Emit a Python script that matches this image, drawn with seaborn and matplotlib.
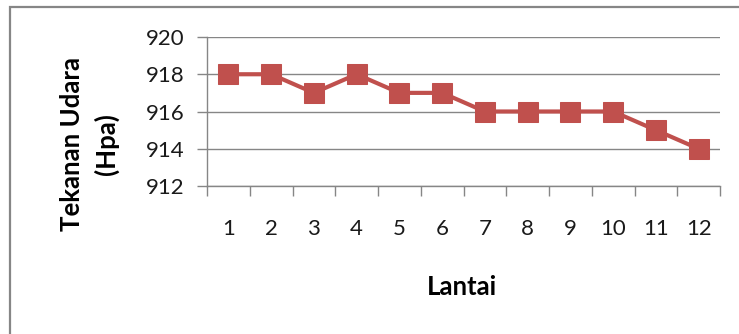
import matplotlib
matplotlib.use("Agg")
import matplotlib.pyplot as plt
from matplotlib.patches import Rectangle
from matplotlib.ticker import FixedLocator
import seaborn as sns
import pandas as pd

lantai = [1, 2, 3, 4, 5, 6, 7, 8, 9, 10, 11, 12]
tekanan = [918, 918, 917, 918, 917, 917, 916, 916, 916, 916, 915, 914]
y_ticks = [912, 914, 916, 918, 920]

df = pd.DataFrame({"Lantai": lantai, "Tekanan": tekanan})

sns.set_theme(style="white")
plt.rcParams["font.family"] = ["Lato", "DejaVu Sans"]

W, H = 739, 334
fig = plt.figure(figsize=(W / 100, H / 100), dpi=100)
fig.patch.set_facecolor("white")

# chart frame
fig.add_artist(Rectangle((10 / W, -0.05), 1.2, 1 - 7 / H + 0.05,
                         transform=fig.transFigure, fill=False,
                         edgecolor="#868686", linewidth=1.6))

ax = fig.add_axes([207 / W, 1 - 186 / H, (720 - 207) / W, (186 - 37) / H])
ax.set_facecolor("white")

red = "#C0504D"
sns.lineplot(data=df, x="Lantai", y="Tekanan", ax=ax, color=red,
             linewidth=3.0, marker="s", markersize=14.5,
             markeredgecolor=red, markerfacecolor=red)

ax.set_xlim(0.5, 12.5)
ax.set_ylim(912, 920)
ax.set_yticks(y_ticks)
ax.set_xticks(lantai)
ax.set_xticklabels([str(v) for v in lantai])
ax.xaxis.set_minor_locator(FixedLocator([v + 0.5 for v in range(0, 13)]))

ax.grid(axis="y", color="#868686", linewidth=1.0)
ax.grid(axis="x", visible=False)
ax.set_axisbelow(True)

for s in ["top", "right"]:
    ax.spines[s].set_visible(False)
for s in ["left", "bottom"]:
    ax.spines[s].set_color("#868686")
    ax.spines[s].set_linewidth(1.0)

ax.tick_params(axis="y", which="major", length=7, width=1.0, color="#868686",
               direction="out", labelsize=16, pad=9, labelcolor="#1a1a1a", left=True)
ax.tick_params(axis="x", which="major", length=0, labelsize=16, pad=24,
               labelcolor="#1a1a1a")
ax.tick_params(axis="x", which="minor", length=7, width=1.0, color="#868686",
               direction="out", bottom=True)

ax.set_xlabel("")
ax.set_ylabel("Tekanan Udara\n(Hpa)", fontsize=18.5, fontweight="bold",
              color="black", linespacing=1.45)
ax.yaxis.set_label_coords(-0.172, 0.28)

fig.text(462 / W, 1 - 295 / H, "Lantai", fontsize=18.5, fontweight="bold",
         color="black", ha="center", va="baseline")

fig.savefig("out.png", dpi=100, facecolor="white")
